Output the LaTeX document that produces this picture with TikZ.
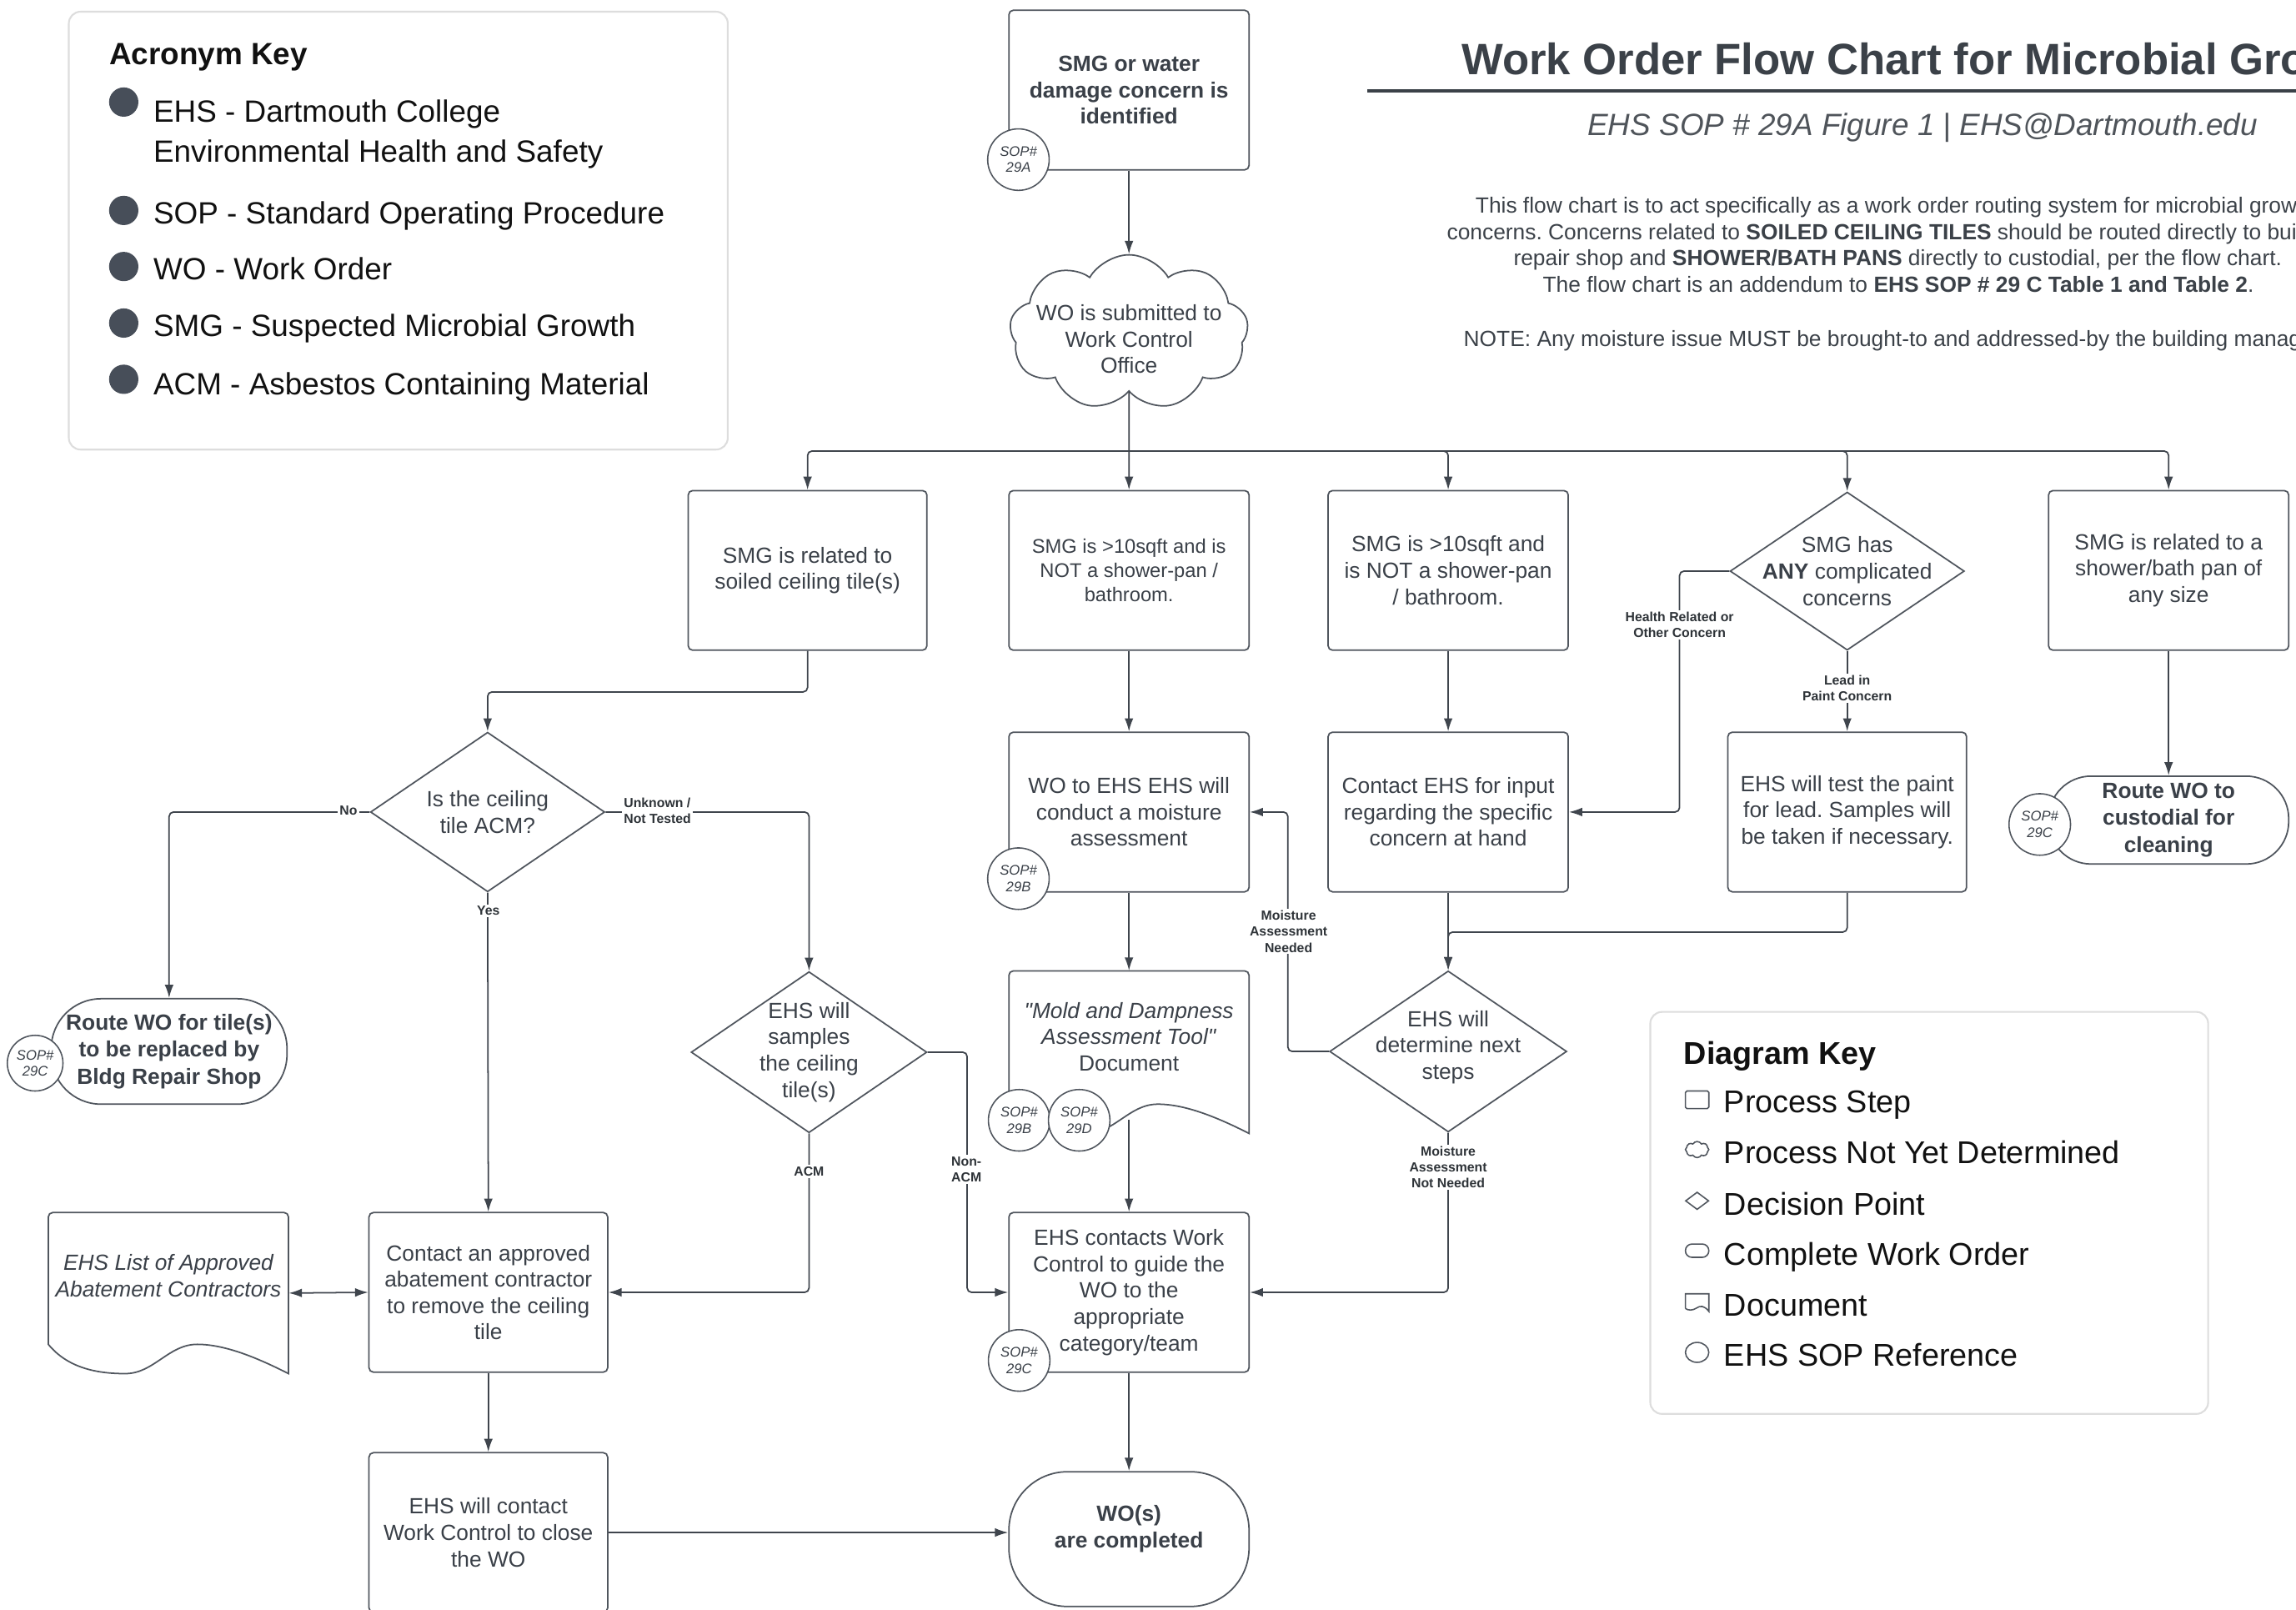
\documentclass[tikz,border=0pt]{standalone}
\usepackage{fontspec}
\setmainfont{Liberation Sans}
\newfontfamily\qfont{Liberation Sans}
\usetikzlibrary{shapes.geometric,shapes.symbols,arrows.meta}
\definecolor{strokec}{HTML}{50565E}
\definecolor{textc}{HTML}{3A4048}
\definecolor{arrowc}{HTML}{3F454D}
\definecolor{labc}{HTML}{2E3338}
\definecolor{keyborder}{HTML}{DDDDDD}
\definecolor{bulletc}{HTML}{474E59}
\definecolor{titlec}{HTML}{3B4148}
\definecolor{keytext}{HTML}{111111}
\newcommand\myfs[2]{\fontsize{#1}{#2}\selectfont}
\newcommand\sq{{\qfont\itshape "}}
\newcommand\ehsdoc[5]{% x0, ytop, w, ybottom, amplitude
  \draw[docline] ({#1},{#4-#5}) [rounded corners=3pt] -- ({#1},{#2}) -- ({#1+#3},{#2}) [sharp corners] -- ({#1+#3},{#4})
    .. controls ({#1+0.88*#3},{#4-0.5*#5}) and ({#1+0.74*#3},{#4-#5}) .. ({#1+0.62*#3},{#4-#5})
    .. controls ({#1+0.5*#3},{#4-#5}) and ({#1+0.44*#3},{#4}) .. ({#1+0.32*#3},{#4})
    .. controls ({#1+0.2*#3},{#4}) and ({#1+0.08*#3},{#4-0.2*#5}) .. ({#1},{#4-#5}) -- cycle;}
\begin{document}
\frenchspacing
\begin{tikzpicture}[x=1pt,y=-1pt,
  box/.style={draw=strokec, line width=1pt, fill=white, rounded corners=3pt, minimum width=164pt, minimum height=109pt, inner sep=0pt, align=center, text=textc, font=\myfs{15}{18}},
  dia/.style={diamond, draw=strokec, line width=1pt, fill=white, minimum width=162pt, minimum height=109pt, inner sep=0pt},
  dtxt/.style={align=center, text=textc, font=\myfs{15}{18}, inner sep=0pt},
  term/.style={draw=strokec, line width=1pt, fill=white, inner sep=0pt, align=center, text=textc, font=\bfseries\myfs{15}{18.5}},
  sop/.style={circle, draw=strokec, line width=0.9pt, fill=white, minimum size=42pt, inner sep=0pt, align=center, font=\itshape\myfs{9.5}{11}, text=textc},
  docline/.style={draw=strokec, line width=1pt, fill=white},
  arr/.style={draw=arrowc, line width=1pt, rounded corners=3pt, -{Latex[length=9pt,width=6pt]}},
  darr/.style={draw=arrowc, line width=1pt, {Latex[length=9pt,width=6pt]}-{Latex[length=9pt,width=6pt]}},
  elab/.style={fill=white, inner sep=1.2pt, align=center, font=\bfseries\myfs{9}{11}, text=labc},
  keybox/.style={draw=keyborder, line width=1.2pt, rounded corners=8pt, fill=white},
  akey/.style={anchor=base west, inner sep=0pt, font=\myfs{21}{25}, text=keytext},
  dkey/.style={anchor=base west, inner sep=0pt, font=\myfs{21.5}{25}, text=keytext},
  para/.style={font=\myfs{15}{18}, text=titlec},
  icon/.style={draw=strokec, line width=0.9pt, fill=white}
]
\useasboundingbox (0,0) rectangle (1568,1099);
\fill[white] (0,0) rectangle (1568,1099);

% ---------------- Acronym key ----------------
\draw[keybox] (47,8) rectangle (497,307);
\node[anchor=base west, inner sep=0pt, font=\bfseries\myfs{21}{25}, text=keytext] (akt) at (74.5,44) {Acronym Key};
\foreach \yy in {69.7,143.7,182,220.6,259}{\fill[bulletc] (84.5,\yy) circle (10pt);}
\node[akey] (a1) at (104.6,83.3) {EHS - Dartmouth College};
\node[akey] (a1b) at (104.6,111) {Environmental Health and Safety};
\node[akey] (a2) at (104.6,153) {SOP - Standard Operating Procedure};
\node[akey] (a3) at (104.6,191) {WO - Work Order};
\node[akey] (a4) at (104.6,229.8) {SMG - Suspected Microbial Growth};
\node[akey] (a5) at (104.6,269.4) {ACM - Asbestos Containing Material};

% ---------------- Title block ----------------
\node[anchor=base west, inner sep=0pt, font=\bfseries\myfs{30}{36}, text=titlec] (title) at (998,51.2) {Work Order Flow Chart for Microbial Growth};
\draw[line width=2pt, titlec] (934,62) -- (1575,62);
\node[anchor=base, inner sep=0pt, font=\itshape\myfs{21}{25}, text=titlec!90] (sub) at (1313,92.6) {EHS SOP \# 29A Figure 1 | EHS@Dartmouth.edu};
\node[para, anchor=base west, inner sep=0pt] (p1) at (1007.5,145.2) {This flow chart is to act specifically as a work order routing system for microbial growth};
\node[para, anchor=base west, inner sep=0pt] (p2) at (988,163.6) {concerns. Concerns related to \textbf{SOILED CEILING TILES} should be routed directly to building};
\node[para, anchor=base, inner sep=0pt] (p3) at (1296,181.2) {repair shop and \textbf{SHOWER/BATH PANS} directly to custodial, per the flow chart.};
\node[para, anchor=base, inner sep=0pt] (p4) at (1296.4,199.3) {The flow chart is an addendum to \textbf{EHS SOP \# 29 C Table 1 and Table 2}.};
\node[para, anchor=base west, inner sep=0pt] (p5) at (999.4,236.3) {NOTE: Any moisture issue MUST be brought-to and addressed-by the building management.};

% ---------------- Flow nodes ----------------
\node[box, font=\bfseries\myfs{15}{18}] (n1) at (771,61.5) {SMG or water\\damage concern is\\identified};
\node[cloud, cloud puffs=9, cloud puff arc=120, aspect=1.5, draw=strokec, line width=1pt, fill=white, minimum width=163pt, minimum height=106pt, inner sep=0pt] (cloud) at (771,227) {};
\node[dtxt] (cloudt) at (771,231.5) {WO is submitted to\\Work Control\\Office};

\node[box, minimum width=163pt] (b1) at (551.5,389.5) {SMG is related to\\soiled ceiling tile(s)};
\node[box, font=\myfs{13.5}{16.5}] (b2) at (771,389.5) {SMG is >10sqft and is\\NOT a shower-pan /\\bathroom.};
\node[box] (b3) at (989,389.5) {SMG is >10sqft and\\is NOT a shower-pan\\/ bathroom.};
\node[dia, minimum width=160pt, minimum height=108pt, label={[dtxt]center:{SMG has\\\textbf{ANY} complicated\\concerns}}] (d1) at (1261.5,390) {};
\node[box] (b5) at (1481,389.5) {SMG is related to a\\shower/bath pan of\\any size};

\node[box] (b6) at (771,554.5) {WO to EHS EHS will\\conduct a moisture\\assessment};
\node[box] (b7) at (989,554.5) {Contact EHS for input\\regarding the specific\\concern at hand};
\node[box, minimum width=163pt] (b8) at (1261.5,554.5) {EHS will test the paint\\for lead. Samples will\\be taken if necessary.};
\node[term, rounded corners=29pt, minimum width=164pt, minimum height=60pt] (t1) at (1481,560) {Route WO to\\custodial for\\cleaning};

\node[dia, minimum width=160pt, minimum height=109pt, label={[dtxt]center:{Is the ceiling\\tile ACM?}}] (d2) at (333,554.5) {};
\node[term, rounded corners=34pt, minimum width=161pt, minimum height=72pt] (t2) at (115.5,718) {Route WO for tile(s)\\to be replaced by\\Bldg Repair Shop};
\node[dia, minimum width=161pt, minimum height=110pt, label={[dtxt]center:{EHS will\\samples\\the ceiling\\tile(s)}}] (d3) at (552.5,718.5) {};

\node[box, minimum width=163pt] (b9) at (333.5,882.5) {Contact an approved\\abatement contractor\\to remove the ceiling\\tile};
\ehsdoc{33}{828}{164}{938}{20}
\node[minimum width=164pt, minimum height=110pt, inner sep=0pt, label={[dtxt, font=\itshape\myfs{15}{18}, yshift=12pt]center:{EHS List of Approved\\Abatement Contractors}}] (doc1) at (115,883) {};
\node[box, minimum width=163pt] (b11) at (333.5,1046.5) {EHS will contact\\Work Control to close\\the WO};

\ehsdoc{689}{663}{164}{774}{20}
\node[minimum width=164pt, minimum height=111pt, inner sep=0pt, label={[dtxt, yshift=10.5pt]center:{\textit{\sq Mold and Dampness}\\\textit{Assessment Tool\sq}\\Document}}] (doc2) at (771,718.5) {};
\coordinate (doc2w) at (771,764.5);
\node[box] (b10) at (771,882.5) {EHS contacts Work\\Control to guide the\\WO to the\\appropriate\\category/team};
\node[term, rounded corners=40pt, minimum width=164pt, minimum height=92pt, label={[dtxt, font=\bfseries\myfs{15}{18}, yshift=7pt]center:{WO(s)\\are completed}}] (t3) at (771,1051) {};
\node[dia, minimum width=162pt, minimum height=110pt, label={[dtxt, yshift=3pt]center:{EHS will\\determine next\\steps}}] (d4) at (989,718) {};

% ---------------- SOP circles ----------------
\node[sop] (s29a) at (695.5,109) {SOP\#\\29A};
\node[sop] (s29b1) at (695.5,600) {SOP\#\\29B};
\node[sop] (s29b2) at (696,765) {SOP\#\\29B};
\node[sop] (s29d) at (737,765) {SOP\#\\29D};
\node[sop] (s29c1) at (696,929) {SOP\#\\29C};
\node[sop] (s29c2) at (1393,563) {SOP\#\\29C};
\node[sop, minimum size=38pt] (s29c3) at (24,726) {SOP\#\\29C};

% ---------------- Connectors ----------------
\coordinate (bus) at (771,308);
\draw[arr] (n1.south) -- (cloud.north);
\draw[arr] (cloud.south) -- (b2.north);
\draw[arr] (bus) -| (b1.north);
\draw[arr] (bus) -| (b3.north);
\draw[arr] (bus) -| (d1.north);
\draw[arr] (bus) -| (b5.north);

\draw[arr] (b1.south) -- ++(0,28) -| (d2.north);
\draw[arr] (b2.south) -- (b6.north);
\draw[arr] (b3.south) -- (b7.north);
\draw[arr] (d1.south) -- (b8.north);
\draw[arr] (d1.west) -- ++(-34,0) |- (b7.east);
\draw[arr] (b5.south) -- (t1.north);

\draw[arr] (d2.west) -| (t2.north);
\draw[arr] (d2.east) -| (d3.north);
\draw[arr] (d2.south) -- (b9.north);
\draw[darr] (doc1.east) -- (b9.west);
\draw[arr] (d3.south) |- (b9.east);
\draw[arr] (d3.east) -- ++(27,0) |- (b10.west);
\draw[arr] (b9.south) -- (b11.north);
\draw[arr] (b11.east) -- (b11.east -| t3.west);

\draw[arr] (b6.south) -- (doc2.north);
\draw[arr] (doc2w) -- (b10.north);
\draw[arr] (b10.south) -- (t3.north);
\draw[arr] (b7.south) -- (d4.north);
\draw[arr] (b8.south) -- ++(0,27) -| (d4.north);
\draw[arr] (d4.west) -- ++(-28,0) |- (b6.east);
\draw[arr] (d4.south) |- (b10.east);

% ---------------- Edge labels ----------------
\node[elab] (lno) at (238,553.5) {No};
\node[elab, align=left] (lunk) at (449,553.5) {Unknown /\\Not Tested};
\node[elab] (lyes) at (333.5,622) {Yes};
\node[elab] (lacm) at (552.5,800) {ACM};
\node[elab] (lnon) at (660,798.5) {Non-\\ACM};
\node[elab] (lhealth) at (1147,426.5) {Health Related or\\Other Concern};
\node[elab] (llead) at (1261.5,470) {Lead in\\Paint Concern};
\node[elab] (lmn) at (880,636) {Moisture\\Assessment\\Needed};
\node[elab] (lmnn) at (989,797) {Moisture\\Assessment\\Not Needed};

% ---------------- Diagram key ----------------
\draw[keybox] (1127,691) rectangle (1508,965.5);
\node[anchor=base west, inner sep=0pt, font=\bfseries\myfs{21.5}{25}, text=keytext] (dkt) at (1149.8,726.8) {Diagram Key};
\draw[icon, rounded corners=1pt] (1151,745) rectangle (1167,757);
\node[cloud, cloud puffs=8, cloud puff arc=120, aspect=1.6, icon, minimum width=16pt, minimum height=11pt, inner sep=0pt] (kcloud) at (1159,785) {};
\node[diamond, icon, minimum width=16pt, minimum height=12pt, inner sep=0pt] (kdia) at (1159,820) {};
\draw[icon, rounded corners=4.5pt] (1151,849.5) rectangle (1167,858.6);
\draw[icon] (1151,893.5) -- (1151,883.5) -- (1167,883.5) -- (1167,895.5) .. controls (1164,891.5) and (1161,891.5) .. (1159,893) .. controls (1156,895) and (1153,895) .. (1151,893.5);
\draw[icon] (1159,923.5) ellipse [x radius=8pt, y radius=6.8pt];
\node[dkey] (k1) at (1177.2,760) {Process Step};
\node[dkey] (k2) at (1177.2,794.7) {Process Not Yet Determined};
\node[dkey] (k3) at (1177.2,829.7) {Decision Point};
\node[dkey] (k4) at (1177.2,864) {Complete Work Order};
\node[dkey] (k5) at (1177.2,898.5) {Document};
\node[dkey] (k6) at (1177.2,933) {EHS SOP Reference};
\end{tikzpicture}
\end{document}
